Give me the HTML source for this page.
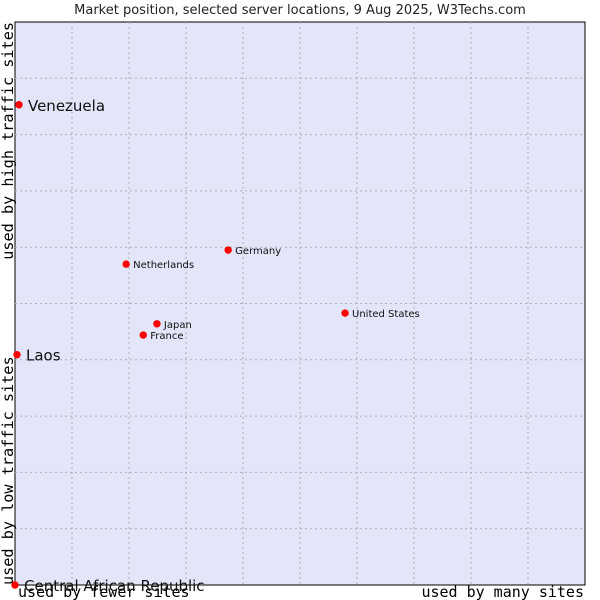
<!DOCTYPE html>
<html><head><meta charset="utf-8"><style>
body{margin:0;background:#fff;}
svg{display:block;font-family:"DejaVu Sans","Liberation Sans",sans-serif;}
</style></head><body>
<svg id="c" width="600" height="600">
<text x="300" y="14" text-anchor="middle" font-size="13" fill="#222">Market position, selected server locations, 9 Aug 2025, W3Techs.com</text>
<rect x="15" y="22" width="570" height="563" fill="#e3e5f8" stroke="#000" stroke-width="1"/>
<g id="grid"></g>
<text transform="translate(13,22) rotate(-90)" text-anchor="end" font-family="'DejaVu Sans Mono','Liberation Mono',monospace" font-size="15.2" fill="#000">used by high traffic sites</text>
<text transform="translate(13,585) rotate(-90)" text-anchor="start" font-family="'DejaVu Sans Mono','Liberation Mono',monospace" font-size="15.2" fill="#000">used by low traffic sites</text>
<text x="18" y="597" font-family="'DejaVu Sans Mono','Liberation Mono',monospace" font-size="15" fill="#000">used by fewer sites</text>
<text x="584" y="597" text-anchor="end" font-family="'DejaVu Sans Mono','Liberation Mono',monospace" font-size="15" fill="#000">used by many sites</text>
<g id="pts"></g>
</svg>
<script>
const countries=["Venezuela","Laos","Central African Republic","Netherlands","Germany","Japan","France","United States"];
const xVals=[0.7,0.35,0,19.5,37.4,24.9,22.5,57.9];
const yVals=[85.3,40.9,0,57.0,59.5,46.4,44.4,48.3];
const bigLabel=[true,true,true,false,false,false,false,false];
const L=15,R=585,T=22,B=585;
const xs=v=>L+v/100*(R-L);
const ys=v=>B-v/100*(B-T);
const NS="http://www.w3.org/2000/svg";
const g=document.getElementById('grid');
for(let i=1;i<10;i++){
  const vx=document.createElementNS(NS,'line');
  vx.setAttribute('x1',xs(i*10));vx.setAttribute('x2',xs(i*10));vx.setAttribute('y1',T);vx.setAttribute('y2',B);
  vx.setAttribute('stroke','#b0b0b0');vx.setAttribute('stroke-dasharray','2,3');
  
  
  g.appendChild(vx);
  const hy=document.createElementNS(NS,'line');
  hy.setAttribute('x1',L);hy.setAttribute('x2',R);hy.setAttribute('y1',ys(i*10));hy.setAttribute('y2',ys(i*10));
  hy.setAttribute('stroke','#b0b0b0');hy.setAttribute('stroke-dasharray','2,3');
  
  
  g.appendChild(hy);
}
const p=document.getElementById('pts');
countries.forEach((c,i)=>{
  const cx=xs(xVals[i]),cy=ys(yVals[i]);
  const d=document.createElementNS(NS,'circle');
  d.setAttribute('cx',cx);d.setAttribute('cy',cy);d.setAttribute('r',3.7);d.setAttribute('fill','#f00');
  
  
  p.appendChild(d);
  const t=document.createElementNS(NS,'text');
  t.setAttribute('x',cx+(bigLabel[i]?9:7));
  t.setAttribute('y',cy+(bigLabel[i]?6:4));
  t.setAttribute('font-size',bigLabel[i]?15:10);
  t.setAttribute('fill','#111');
  t.textContent=c;
  
  
  p.appendChild(t);
});
</script>
</body></html>
